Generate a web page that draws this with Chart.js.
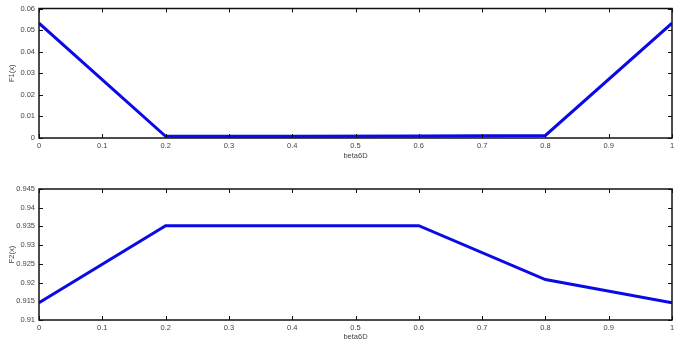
<!DOCTYPE html>
<html><head><meta charset="utf-8">
<script src="https://cdn.jsdelivr.net/npm/chart.js@4/dist/chart.umd.min.js"></script>
<style>
html,body{margin:0;padding:0;background:#fff;}
#w1,#w2{position:absolute;left:0;width:683px;height:176px;}
#w1{top:0}#w2{top:176px}
</style></head><body>
<div id="w1"><canvas id="c1" width="683" height="176"></canvas></div>
<div id="w2"><canvas id="c2" width="683" height="176"></canvas></div>
<script>
const xValues = [0, 0.2, 0.4, 0.6, 0.8, 1];
const f1Values = [0.0532, 0.0008, 0.0008, 0.0009, 0.0012, 0.0532];
const f2Values = [0.9146, 0.9352, 0.9352, 0.9352, 0.9208, 0.9146];
const xTicks = [0, 0.1, 0.2, 0.3, 0.4, 0.5, 0.6, 0.7, 0.8, 0.9, 1];
const y1Ticks = [0, 0.01, 0.02, 0.03, 0.04, 0.05, 0.06];
const y2Ticks = [0.91, 0.915, 0.92, 0.925, 0.93, 0.935, 0.94, 0.945];
const xTitle = 'beta6D';

const FONT = {family: '"Liberation Sans", Arial, sans-serif', size: 7.5};
const LABEL = '#444';

const framePlugin = {
  id: 'frame',
  afterDraw(chart) {
    const ctx = chart.ctx, a = chart.chartArea;
    const xs = chart.scales.x, ys = chart.scales.y;
    ctx.save();
    ctx.strokeStyle = '#111';
    ctx.lineWidth = 1;
    ctx.beginPath();
    const tl = 4;
    xs.ticks.forEach(t => {
      const px = Math.round(xs.getPixelForValue(t.value)) + 0.5;
      ctx.moveTo(px, a.bottom); ctx.lineTo(px, a.bottom - tl);
      ctx.moveTo(px, a.top); ctx.lineTo(px, a.top + tl);
    });
    ys.ticks.forEach(t => {
      const py = Math.round(ys.getPixelForValue(t.value)) + 0.5;
      ctx.moveTo(a.left, py); ctx.lineTo(a.left + tl, py);
      ctx.moveTo(a.right, py); ctx.lineTo(a.right - tl, py);
    });
    ctx.stroke();
    ctx.lineWidth = 1.5;
    ctx.strokeRect(a.left, a.top, a.right - a.left, a.bottom - a.top);
    ctx.restore();
  }
};

function makeChart(id, yVals, yTicks, yTitle, padTop, xHeight, xTitlePad) {
  return new Chart(document.getElementById(id), {
    type: 'line',
    data: {
      datasets: [{
        data: xValues.map((x, i) => ({x: x, y: yVals[i]})),
        borderColor: '#0a0ae6',
        borderWidth: 3,
        pointRadius: 0,
        tension: 0,
        fill: false
      }]
    },
    options: {
      responsive: false,
      animation: false,
      events: [],
      layout: {padding: {top: padTop, right: 11, left: 0, bottom: 0}},
      plugins: {legend: {display: false}, tooltip: {enabled: false}},
      scales: {
        x: {
          type: 'linear', min: 0, max: 1,
          afterBuildTicks: s => { s.ticks = xTicks.map(v => ({value: v})); },
          afterFit: s => { s.height = xHeight; },
          grid: {display: false, drawTicks: false},
          border: {display: false},
          ticks: {font: FONT, color: LABEL, padding: 3, maxRotation: 0, autoSkip: false,
                  callback: v => String(v)},
          title: {display: true, text: xTitle, font: FONT, color: LABEL,
                  padding: {top: 0, bottom: xTitlePad}}
        },
        y: {
          type: 'linear', min: yTicks[0], max: yTicks[yTicks.length - 1],
          afterBuildTicks: s => { s.ticks = yTicks.map(v => ({value: v})); },
          afterFit: s => { s.width = 39; },
          grid: {display: false, drawTicks: false},
          border: {display: false},
          ticks: {font: FONT, color: LABEL, padding: 4, autoSkip: false,
                  callback: v => String(v)},
          title: {display: true, text: yTitle, font: FONT, color: LABEL,
                  padding: {top: 7.5, bottom: 0}}
        }
      }
    },
    plugins: [framePlugin]
  });
}

makeChart('c1', f1Values, y1Ticks, 'F1(x)', 8, 38, 15.5);
makeChart('c2', f2Values, y2Ticks, 'F2(x)', 13, 32, 10.5);
</script>
</body></html>
